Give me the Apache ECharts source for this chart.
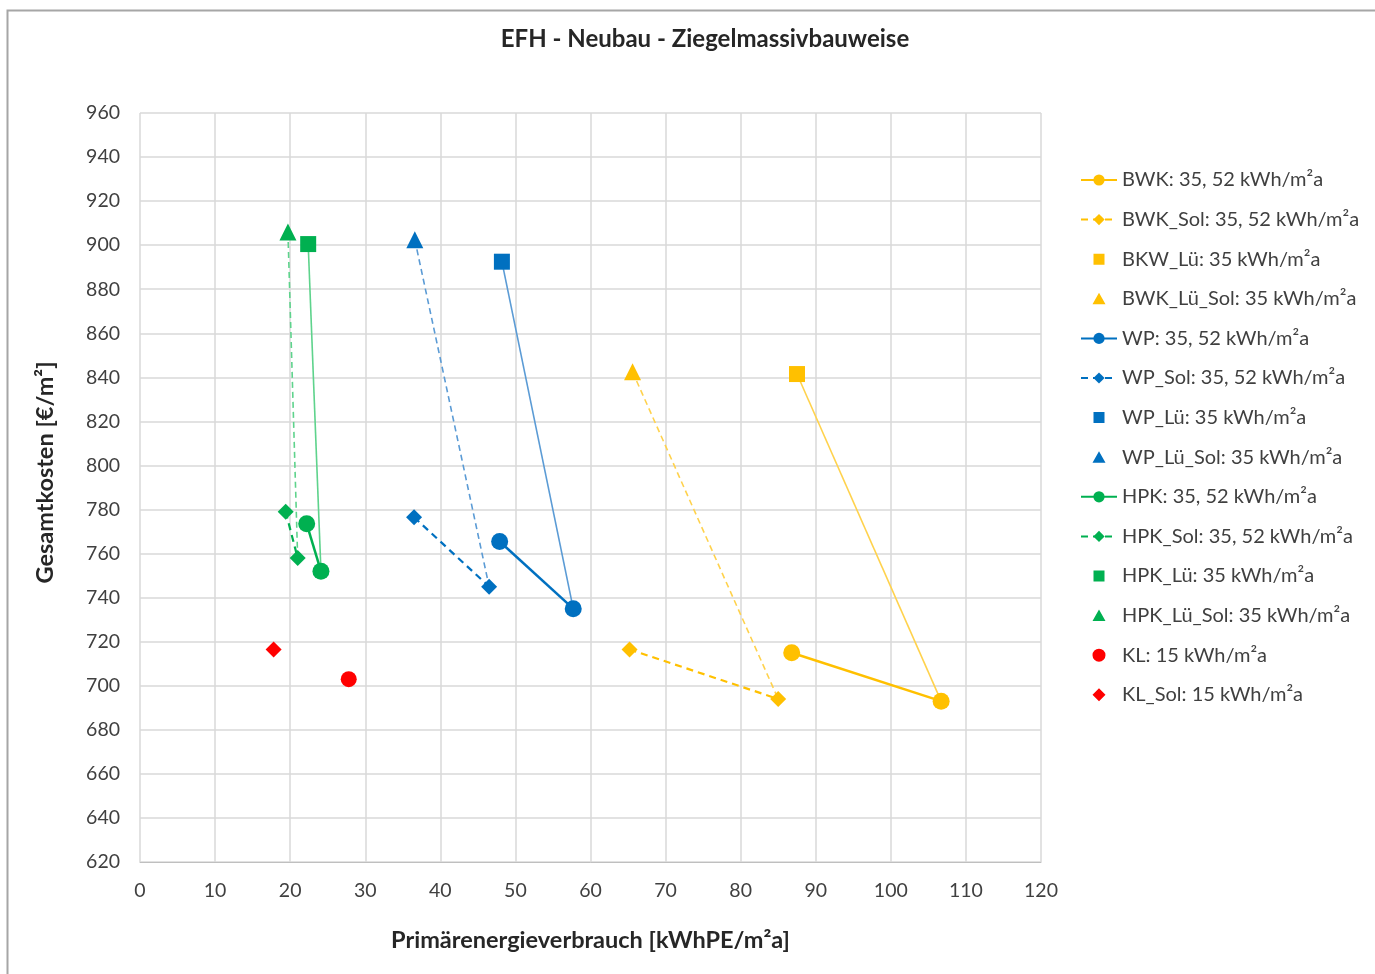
<!DOCTYPE html>
<html>
<head>
<meta charset="utf-8">
<script src="https://cdn.jsdelivr.net/npm/echarts@6/dist/echarts.min.js"></script>
<style>
html,body{margin:0;padding:0;background:#fff;}
#chart{width:1375px;height:974px;}
</style>
</head>
<body>
<div id="chart"></div>
<script>
// ---- data (x: Primärenergieverbrauch, y: Gesamtkosten) ----
const titleText = 'EFH - Neubau - Ziegelmassivbauweise';
const xTicks = [0, 10, 20, 30, 40, 50, 60, 70, 80, 90, 100, 110, 120];
const yTicks = [620, 640, 660, 680, 700, 720, 740, 760, 780, 800, 820, 840, 860, 880, 900, 920, 940, 960];

const bwk      = [[86.8, 715], [106.7, 693]];
const bwkSol   = [[65.2, 716.5], [85.0, 694]];
const bwkLu    = [[87.5, 841.5]];
const bwkLuSol = [[65.6, 842.5]];
const wp       = [[47.9, 765.5], [57.7, 735]];
const wpSol    = [[36.5, 776.5], [46.5, 745]];
const wpLu     = [[48.2, 892.5]];
const wpLuSol  = [[36.6, 902.5]];
const hpk      = [[22.2, 773.5], [24.1, 752]];
const hpkSol   = [[19.4, 779], [21.0, 758]];
const hpkLu    = [[22.4, 900.5]];
const hpkLuSol = [[19.7, 906]];
const kl       = [[27.8, 703]];
const klSol    = [[17.8, 716.5]];

const names = [
  'BWK: 35, 52 kWh/m²a', 'BWK_Sol: 35, 52 kWh/m²a', 'BKW_Lü: 35 kWh/m²a', 'BWK_Lü_Sol: 35 kWh/m²a',
  'WP: 35, 52 kWh/m²a', 'WP_Sol: 35, 52 kWh/m²a', 'WP_Lü: 35 kWh/m²a', 'WP_Lü_Sol: 35 kWh/m²a',
  'HPK: 35, 52 kWh/m²a', 'HPK_Sol: 35, 52 kWh/m²a', 'HPK_Lü: 35 kWh/m²a', 'HPK_Lü_Sol: 35 kWh/m²a',
  'KL: 15 kWh/m²a', 'KL_Sol: 15 kWh/m²a'
];

// ---- styles ----
const YEL = '#FFC000', BLU = '#0070C0', GRN = '#00B050', RED = '#FF0000';
const YEL_L = '#FFD24D', BLU_L = '#5B9BD5', GRN_L = '#5ED38C';
const FONT = 'Lato';

// legend icons for marker-only series: shape centred in a 36x14 box
const BOX = 'M0 0 L0 0.01 M36 14 L36 13.99 ';
const ICON_RECT = 'path://' + BOX + 'M12.5 1.5 L23.5 1.5 L23.5 12.5 L12.5 12.5 Z';
const ICON_TRI = 'path://' + BOX + 'M18 1 L24.5 12.5 L11.5 12.5 Z';
const ICON_CIRC = 'path://' + BOX + 'M18 0.5 A6.5 6.5 0 1 1 17.99 0.5 Z';
const ICON_DIA = 'path://' + BOX + 'M18 0.5 L24.5 7 L18 13.5 L11.5 7 Z';

function lineSeries(name, data, color, dashed, symbol, size) {
  return {
    name, type: 'line', data, symbol, symbolSize: size,
    itemStyle: {color}, lineStyle: {color, width: dashed ? 2.2 : 2.5, type: dashed ? [7, 5] : 'solid'},
    z: 3, animation: false
  };
}
function pointSeries(name, data, color, symbol, size) {
  return {name, type: 'scatter', data, symbol, symbolSize: size, itemStyle: {color, opacity: 1}, z: 4, animation: false};
}
function connector(a, b, color, dashed) {
  return {
    type: 'line', data: [a, b], symbol: 'none', silent: true,
    lineStyle: {color, width: 1.6, type: dashed ? [6, 4] : 'solid'}, z: 2, animation: false
  };
}

const series = [
  connector(bwkLu[0], bwk[1], YEL_L, false),
  connector(bwkLuSol[0], bwkSol[1], YEL_L, true),
  connector(wpLu[0], wp[1], BLU_L, false),
  connector(wpLuSol[0], wpSol[1], BLU_L, true),
  connector(hpkLu[0], hpk[1], GRN_L, false),
  connector(hpkLuSol[0], hpkSol[1], GRN_L, true),
  lineSeries(names[0], bwk, YEL, false, 'circle', 17),
  lineSeries(names[1], bwkSol, YEL, true, 'diamond', 16),
  pointSeries(names[2], bwkLu, YEL, 'rect', 16),
  pointSeries(names[3], bwkLuSol, YEL, 'triangle', 17),
  lineSeries(names[4], wp, BLU, false, 'circle', 17),
  lineSeries(names[5], wpSol, BLU, true, 'diamond', 16),
  pointSeries(names[6], wpLu, BLU, 'rect', 16),
  pointSeries(names[7], wpLuSol, BLU, 'triangle', 17),
  lineSeries(names[8], hpk, GRN, false, 'circle', 17),
  lineSeries(names[9], hpkSol, GRN, true, 'diamond', 16),
  pointSeries(names[10], hpkLu, GRN, 'rect', 16),
  pointSeries(names[11], hpkLuSol, GRN, 'triangle', 17),
  pointSeries(names[12], kl, RED, 'circle', 16),
  pointSeries(names[13], klSol, RED, 'diamond', 16)
];

const iconFor = {2: ICON_RECT, 3: ICON_TRI, 6: ICON_RECT, 7: ICON_TRI, 10: ICON_RECT, 11: ICON_TRI, 12: ICON_CIRC, 13: ICON_DIA};
const legendData = names.map((n, i) => iconFor[i] ? {name: n, icon: iconFor[i]} : {name: n});

const chart = echarts.init(document.getElementById('chart'), null, {renderer: 'canvas'});
chart.setOption({
  backgroundColor: '#fff',
  animation: false,
  title: {
    text: titleText, left: 700, top: 22, textAlign: 'center',
    textStyle: {fontFamily: FONT, fontSize: 24, fontWeight: 'bold', color: '#262626'}
  },
  graphic: [{
    type: 'polyline', silent: true,
    shape: {points: [[7.5, 974], [7.5, 10.5], [1375, 10.5]]},
    style: {stroke: '#A6A6A6', lineWidth: 2, fill: null}
  }],
  legend: {
    data: legendData, orient: 'vertical', left: 1080, top: 170, padding: 0,
    itemWidth: 36, itemHeight: 14, itemGap: 19.6,
    textStyle: {fontFamily: FONT, fontSize: 20, color: '#404040'}
  },
  grid: {left: 140, right: 334, top: 113, bottom: 112, containLabel: false},
  xAxis: {
    type: 'value', min: xTicks[0], max: xTicks[xTicks.length - 1], interval: 10,
    name: 'Primärenergieverbrauch [kWhPE/m²a]', nameLocation: 'middle', nameGap: 66,
    nameTextStyle: {fontFamily: FONT, fontSize: 23.5, fontWeight: 'bold', color: '#262626'},
    axisLine: {show: true, lineStyle: {color: '#BFBFBF', width: 1}},
    axisTick: {show: false},
    axisLabel: {fontFamily: FONT, fontSize: 19.5, color: '#404040', margin: 19},
    splitLine: {show: true, lineStyle: {color: '#D9D9D9', width: 1.5}}
  },
  yAxis: {
    type: 'value', min: yTicks[0], max: yTicks[yTicks.length - 1], interval: 20,
    name: 'Gesamtkosten [€/m²]', nameLocation: 'middle', nameGap: 83, nameRotate: 90,
    nameTextStyle: {fontFamily: FONT, fontSize: 23.5, fontWeight: 'bold', color: '#262626', padding: [0, 0, 0, 30]},
    axisLine: {show: false},
    axisTick: {show: false},
    axisLabel: {fontFamily: FONT, fontSize: 19.5, color: '#404040', margin: 20},
    splitLine: {show: true, lineStyle: {color: '#D9D9D9', width: 1.5}}
  },
  series
});
</script>
</body>
</html>
